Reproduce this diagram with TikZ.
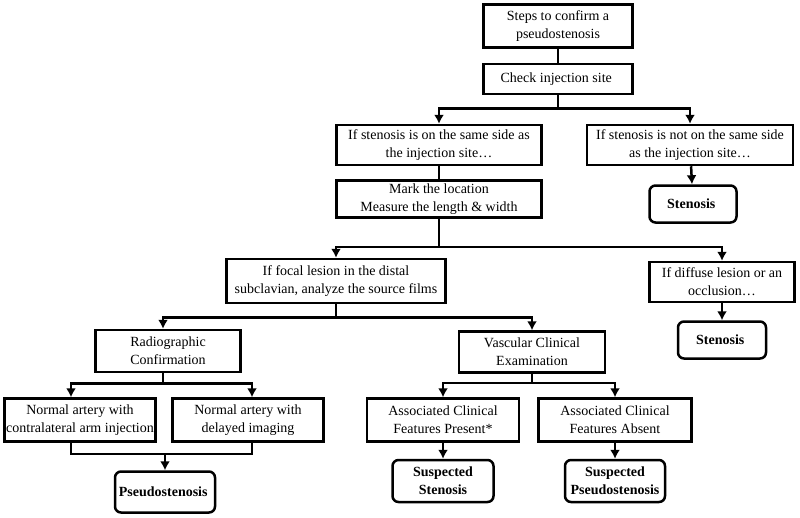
\documentclass[tikz,border=0pt]{standalone}
\usepackage{fontspec}
\setmainfont{Liberation Serif}
\usetikzlibrary{arrows.meta,positioning}

\newcommand{\flowfont}{\fontsize{14}{18}\selectfont}

\tikzset{
    box/.style={rectangle, draw, line width=2.5pt, align=center, inner sep=1pt, font=\flowfont},
    endbox/.style={box, rounded corners=6pt, font=\flowfont\bfseries},
    line/.style={draw, line width=2.5pt},
    arrow/.style={line, -{Latex[length=9pt,width=10pt]}}
}

\begin{document}
\begin{tikzpicture}[x=1pt, y=-1pt]

    \useasboundingbox (0,0) rectangle (800,517);

    %-----Boxes-----
    % Start
    \node [box, minimum width=149pt, minimum height=43pt] (steps) at (558,26) {%
        Steps to confirm a \\
        pseudostenosis
    };

    % Injection site
    \node [box, minimum width=149pt, minimum height=30pt, below=14pt of steps] (check) {%
        Check injection site
    };

    % Same side
    \node [box, minimum width=205pt, minimum height=40pt] (same) at (439,145) {%
        If stenosis is on the same side as \\
        the injection site\dots
    };

    % Not the same side
    \node [box, minimum width=206pt, minimum height=40pt] (notsame) at (690,145) {%
        If stenosis is not on the same side \\
        as the injection site\dots
    };

    % Stenosis (not same side)
    \node [endbox, minimum width=87pt, minimum height=37pt] (stenA) at (693,204) {%
        Stenosis
    };

    % Mark the location
    \node [box, minimum width=205pt, minimum height=37pt, below=13pt of same] (mark) {%
        Mark the location \\
        Measure the length \& width
    };

    % Focal lesion
    \node [box, minimum width=219pt, minimum height=44pt] (focal) at (336,281) {%
        If focal lesion in the distal \\
        subclavian, analyze the source films
    };

    % Diffuse lesion
    \node [box, minimum width=145pt, minimum height=40pt] (diffuse) at (722,282) {%
        If diffuse lesion or an \\
        occlusion\dots
    };

    % Stenosis (diffuse)
    \node [endbox, minimum width=88pt, minimum height=37pt, below=17pt of diffuse] (stenB) {%
        Stenosis
    };

    % Radiographic confirmation
    \node [box, minimum width=145pt, minimum height=42pt] (radio) at (168,351) {%
        Radiographic \\
        Confirmation
    };

    % Vascular examination
    \node [box, minimum width=146pt, minimum height=41pt] (vasc) at (532,352) {%
        Vascular Clinical \\
        Examination
    };

    % Contralateral injection
    \node [box, minimum width=151pt, minimum height=43pt] (contra) at (80,420) {%
        Normal artery with \\
        contralateral arm injection
    };

    % Delayed imaging
    \node [box, minimum width=151pt, minimum height=43pt] (delayed) at (248,420) {%
        Normal artery with \\
        delayed imaging
    };

    % Pseudostenosis
    \node [endbox, minimum width=100pt, minimum height=41pt] (pseudo) at (165,492) {%
        Pseudostenosis
    };

    % Features present
    \node [box, minimum width=152pt, minimum height=43pt] (present) at (443,420) {%
        Associated Clinical \\
        Features Present*
    };

    % Features absent
    \node [box, minimum width=153pt, minimum height=43pt] (absent) at (615,420) {%
        Associated Clinical \\
        Features Absent
    };

    % Suspected stenosis
    \node [endbox, minimum width=101pt, minimum height=42pt, below=16pt of present] (suspsten) {%
        Suspected \\
        Stenosis
    };

    % Suspected pseudostenosis
    \node [endbox, minimum width=100pt, minimum height=42pt, below=16pt of absent] (susppseudo) {%
        Suspected \\
        Pseudostenosis
    };

    %-----Connectors-----
    \draw [line] (steps) -- (check);
    \draw [line] (check.south) -- ++(0,13) coordinate (splitA);
    \draw [arrow] (splitA) -| (same.north);
    \draw [arrow] (splitA) -| (notsame.north);

    \draw [line] (same) -- (mark);
    \draw [arrow] (notsame) -- (stenA);

    \draw [line] (mark.south) -- ++(0,28) coordinate (splitB);
    \draw [arrow] (splitB) -| (focal.north);
    \draw [arrow] (splitB) -| (diffuse.north);
    \draw [arrow] (diffuse) -- (stenB);

    \draw [line] (focal.south) -- ++(0,13) coordinate (splitC);
    \draw [arrow] (splitC) -| ([xshift=-5pt]radio.north);
    \draw [arrow] (splitC) -| (vasc.north);

    \draw [line] ([xshift=-5pt]radio.south) -- ++(0,10) coordinate (splitD);
    \draw [arrow] (splitD) -| ([xshift=-9pt]contra.north);
    \draw [arrow] (splitD) -| ([xshift=4pt]delayed.north);

    \draw [line] ([xshift=-9pt]contra.south) -- ++(0,11) coordinate (joinE) -| ([xshift=4pt]delayed.south);
    \draw [arrow] (joinE -| pseudo.north) -- (pseudo.north);

    \draw [line] (vasc.south) -- ++(0,9) coordinate (splitF);
    \draw [arrow] (splitF) -| (present.north);
    \draw [arrow] (splitF) -| (absent.north);

    \draw [arrow] (present) -- (suspsten);
    \draw [arrow] (absent) -- (susppseudo);

\end{tikzpicture}
\end{document}
